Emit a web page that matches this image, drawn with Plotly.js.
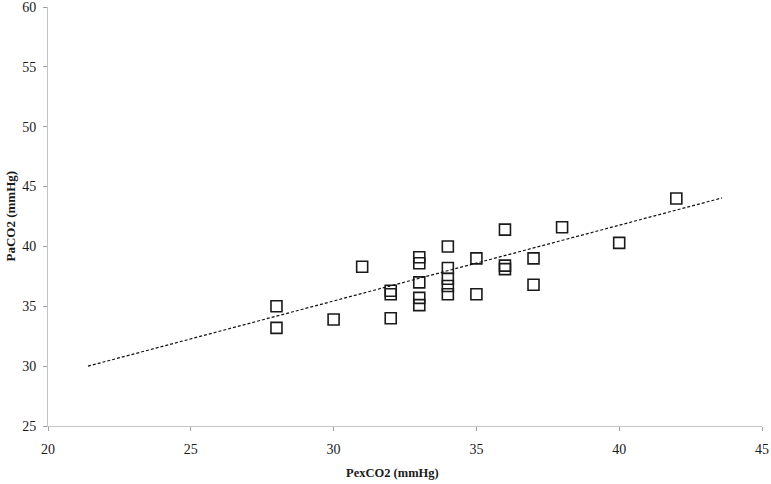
<!DOCTYPE html>
<html>
<head>
<meta charset="utf-8">
<script src="https://cdn.plot.ly/plotly-3.0.1.min.js"></script>
<style>html,body{margin:0;padding:0;background:#fff;}#chart{width:771px;height:484px;}</style>
</head>
<body>
<div id="chart"></div>
<script>
// Data
const pexCO2 = [28, 28, 30, 31, 32, 32, 32, 33, 33, 33, 33, 33, 34, 34, 34, 34, 34, 35, 35, 36, 36, 36, 37, 37, 38, 40, 42];
const paCO2  = [35.0, 33.2, 33.9, 38.3, 36.3, 36.0, 34.0, 39.1, 38.6, 37.0, 35.7, 35.1, 40.0, 38.2, 37.3, 36.7, 36.0, 39.0, 36.0, 41.4, 38.4, 38.1, 39.0, 36.8, 41.6, 40.3, 44.0];
// Trend line end points
const trendX = [21.4, 43.6];
const trendY = [30.0, 44.05];
const xTicks = [20, 25, 30, 35, 40, 45];
const yTicks = [25, 30, 35, 40, 45, 50, 55, 60];
const xTitle = 'PexCO2 (mmHg)';
const yTitle = 'PaCO2 (mmHg)';

const serif = '"Liberation Serif", "Times New Roman", serif';
const W = 771, H = 484;
const M = {l: 48, r: 9, t: 7, b: 58};
const pw = W - M.l - M.r, ph = H - M.t - M.b;

const traces = [
  {
    x: pexCO2, y: paCO2, type: 'scatter', mode: 'markers',
    marker: {symbol: 'square-open', size: 11, color: '#1a1a1a', line: {width: 1.6, color: '#1a1a1a'}},
    hoverinfo: 'x+y', showlegend: false
  },
  {
    x: trendX, y: trendY, type: 'scatter', mode: 'lines',
    line: {color: '#111', width: 1.2, dash: '3px,2px'},
    showlegend: false, hoverinfo: 'skip'
  }
];

const axisCommon = {
  showgrid: false, zeroline: false, showline: true, linecolor: '#c4c4c4', linewidth: 1,
  ticks: 'outside', ticklen: 4, tickcolor: '#a0a0a0',
  tickfont: {family: serif, size: 14, color: '#1a1a1a'},
  ticklabeloverflow: 'allow'
};

const layout = {
  width: W, height: H,
  margin: M,
  paper_bgcolor: '#fff', plot_bgcolor: '#fff',
  font: {family: serif, size: 14, color: '#1a1a1a'},
  xaxis: Object.assign({}, axisCommon, {
    range: [20, 45], tickvals: xTicks, ticktext: xTicks.map(String), ticklabelstandoff: 6
  }),
  yaxis: Object.assign({}, axisCommon, {
    range: [25, 60], tickvals: yTicks, ticktext: yTicks.map(String), ticklabelstandoff: 4
  }),
  annotations: [
    {
      text: '<b>' + xTitle + '</b>', xref: 'paper', yref: 'paper',
      x: (392 - M.l) / pw, y: -(473 - M.t - ph) / ph, xanchor: 'center', yanchor: 'middle',
      showarrow: false, font: {family: serif, size: 12.5, color: '#1a1a1a'}
    },
    {
      text: '<b>' + yTitle + '</b>', xref: 'paper', yref: 'paper',
      x: (10 - M.l) / pw, y: 0.5, xanchor: 'center', yanchor: 'middle', textangle: -90,
      showarrow: false, font: {family: serif, size: 13, color: '#1a1a1a'}
    }
  ]
};

Plotly.newPlot('chart', traces, layout, {displayModeBar: false, staticPlot: true});
</script>
</body>
</html>
